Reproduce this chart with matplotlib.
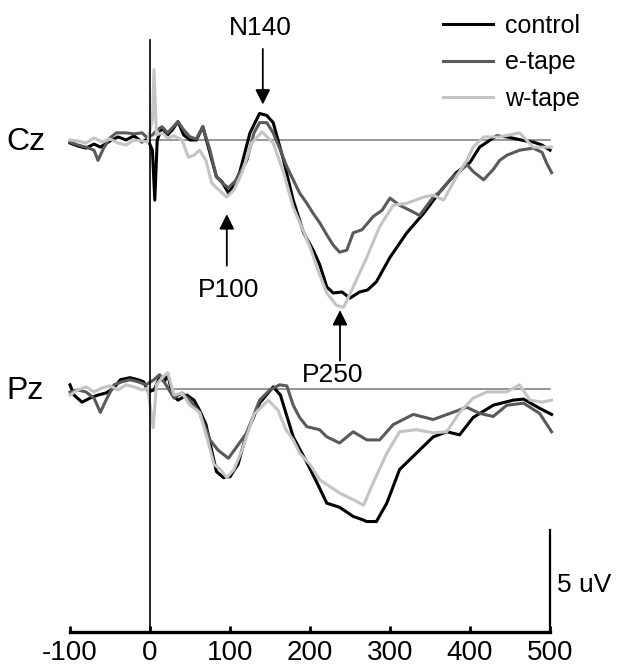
import matplotlib
matplotlib.use("Agg")
import matplotlib.pyplot as plt

plt.rcParams['font.family'] = ['Liberation Sans', 'DejaVu Sans']

# ERP amplitudes in uV (negative drawn upward), time in ms
cz_control_t = [-100, -90, -80, -70, -62, -50, -40, -30, -20, -10, -3, 3, 6, 9, 15, 22, 28, 35, 42, 50,
                58, 66, 75, 83, 90, 98, 105, 112, 125, 137, 146, 154, 167, 179, 192, 204, 212, 221, 229,
                240, 250, 262, 272, 283, 300, 321, 342, 362, 383, 400, 412, 433, 446, 458, 470, 479, 490, 500]
cz_control_v = [0.15, 0.3, 0.4, 0.2, 0.35, 0.05, -0.15, 0, -0.2, 0.1, -0.05, 0.5, 2.95, 0, -0.6, -0.25, -0.5,
                -0.9, -0.25, 0, 0, -0.65, 0.65, 1.8, 2.05, 2.6, 2.2, 1.6, -0.35, -1.3, -1.2, -0.85, 1.0,
                2.95, 4.55, 5.4, 6.1, 7.2, 7.5, 7.45, 7.75, 7.45, 7.35, 6.95, 5.75, 4.55, 3.6, 2.55, 1.6,
                1.1, 0.35, -0.2, -0.15, -0.05, 0.05, 0.1, 0.25, 0.5]

cz_etape_t = [-100, -90, -80, -70, -65, -58, -50, -42, -30, -20, -10, -3, 3, 9, 15, 22, 28, 35, 42, 50,
              58, 66, 75, 83, 90, 98, 108, 121, 130, 137, 146, 154, 163, 171, 179, 187, 196, 204, 212,
              221, 229, 237, 246, 254, 265, 279, 290, 300, 312, 325, 337, 354, 365, 375, 387, 396, 404,
              417, 429, 437, 446, 462, 479, 490, 496, 502]
cz_etape_v = [0.1, 0.25, 0.35, 0.5, 1.0, 0.4, -0.1, -0.35, -0.35, -0.3, -0.35, -0.1, -0.25, -0.5, -0.65,
              -0.35, -0.6, -0.9, -0.5, -0.15, -0.05, -0.65, 0.5, 1.8, 2.1, 2.35, 1.95, 1.0, -0.35, -0.85,
              -0.85, -0.35, 0.5, 1.3, 1.95, 2.6, 3.1, 3.6, 4.05, 4.65, 5.15, 5.5, 5.4, 4.55, 4.4, 3.75,
              3.45, 2.85, 3.2, 3.45, 3.7, 2.8, 2.45, 1.95, 1.55, 1.2, 1.55, 1.95, 1.45, 1.0, 0.75, 0.5,
              0.4, 0.6, 1.15, 1.6]

cz_wtape_t = [-100, -90, -80, -70, -60, -50, -40, -30, -20, -10, -3, 3, 5, 8, 15, 22, 30, 40, 48, 55, 62,
              70, 77, 86, 96, 105, 115, 127, 140, 154, 167, 179, 190, 200, 212, 221, 233, 242, 254, 271,
              287, 304, 321, 342, 354, 367, 383, 396, 404, 417, 437, 450, 462, 479, 490, 502]
cz_wtape_v = [0, 0.05, 0.15, -0.1, 0.1, -0.05, 0.15, 0.25, 0, 0.05, 0.1, -1.0, -3.45, -0.25, -0.35, -0.1,
              -0.2, 0, 0.85, 0.75, 0.5, 1.0, 2.1, 2.45, 2.8, 2.45, 1.6, 0.15, -0.4, 0.15, 1.6, 3.3, 4.3,
              5.25, 6.6, 7.5, 8.1, 8.2, 7.2, 5.75, 4.25, 3.2, 3.1, 2.8, 2.7, 2.95, 1.8, 1.0, 0.35, -0.15,
              -0.15, -0.25, -0.35, 0.35, 0.35, 0.35]

pz_control_t = [-100, -95, -85, -75, -65, -55, -45, -37, -25, -15, -8, -2, 5, 12, 18, 22, 28, 35, 46, 55,
                62, 70, 77, 83, 92, 100, 110, 121, 137, 154, 163, 179, 196, 210, 221, 237, 254, 265, 271,
                283, 296, 312, 333, 354, 371, 387, 404, 429, 454, 467, 487, 502]
pz_control_v = [-0.2, 0.3, 0.65, 0.45, 0.3, 0.2, -0.05, -0.45, -0.55, -0.45, -0.35, 0.15, 0.05, -0.55,
                -0.35, -0.75, 0.3, 0.55, 0.3, 0.55, 1.05, 1.75, 3.0, 4.05, 4.35, 4.3, 3.7, 2.15, 0.7, -0.1,
                0.3, 2.35, 3.6, 4.7, 5.6, 5.8, 6.25, 6.4, 6.5, 6.5, 5.6, 3.95, 3.15, 2.35, 2.1, 2.25, 1.4,
                0.8, 0.55, 0.5, 0.95, 1.25]

pz_etape_t = [-100, -90, -80, -70, -62, -55, -45, -35, -25, -15, -5, 5, 12, 20, 30, 40, 50, 62, 75, 85,
              98, 110, 121, 137, 150, 162, 171, 179, 187, 196, 212, 221, 237, 254, 271, 287, 304, 329,
              354, 375, 396, 412, 429, 446, 467, 487, 502]
pz_etape_v = [0.15, 0.05, 0.15, 0.45, 1.15, 0.55, -0.2, -0.35, -0.45, -0.35, -0.2, -0.45, -0.7, -0.2,
              0.45, 0.2, 0.55, 1.15, 2.5, 3.0, 3.4, 2.75, 2.15, 0.55, 0.05, -0.2, -0.15, 0.8, 1.4, 1.85,
              2.0, 2.35, 2.65, 2.1, 2.5, 2.5, 1.75, 1.25, 1.5, 1.2, 0.9, 1.2, 1.35, 0.8, 0.7, 1.2, 2.1]

pz_wtape_t = [-100, -90, -80, -70, -60, -50, -40, -30, -20, -10, -3, 4, 8, 15, 22, 30, 40, 50, 62, 72, 80,
              88, 96, 105, 115, 130, 148, 160, 170, 179, 187, 200, 212, 237, 255, 267, 279, 296, 312,
              333, 354, 371, 387, 404, 421, 446, 462, 475, 490, 502]
pz_wtape_v = [0.3, 0.05, -0.1, 0.15, -0.05, -0.15, 0.05, -0.2, -0.1, 0.05, -0.05, 1.9, -0.2, -0.55, -0.8,
              0.3, 0.2, 0.8, 1.15, 2.5, 3.7, 3.95, 4.35, 3.95, 3.0, 1.25, 0.55, 1.05, 2.0, 2.5, 3.15, 3.7,
              4.45, 5.1, 5.45, 5.7, 4.6, 3.15, 2.1, 2.0, 2.15, 2.1, 1.15, 0.45, 0.15, 0.15, -0.2, 0.55,
              0.65, 0.55]

conditions = ['control', 'e-tape', 'w-tape']
colors = ['#000000', '#5a5a5a', '#c4c4c4']
channels = ['Cz', 'Pz']
channel_offset = [0.0, 12.2]
xticks = [-100, 0, 100, 200, 300, 400, 500]
scale_uv = 5

cz = [(cz_control_t, cz_control_v), (cz_etape_t, cz_etape_v), (cz_wtape_t, cz_wtape_v)]
pz = [(pz_control_t, pz_control_v), (pz_etape_t, pz_etape_v), (pz_wtape_t, pz_wtape_v)]

fig = plt.figure(figsize=(6.28, 6.66), dpi=100)
ax = fig.add_axes([0, 0, 1, 1])
ax.set_xlim(-187.5, 597.5)
ax.set_ylim(25.78, -6.86)
axis_y = 24.1

for name, off, data in zip(channels, channel_offset, [cz, pz]):
    ax.plot([0, 500], [off, off], color='#7a7a7a', lw=1.1, zorder=1)
    for (t, v), c, lab in zip(data, colors, conditions):
        ax.plot(t, [x + off for x in v], color=c, lw=2.2, zorder=2,
                label=lab if name == 'Cz' else None)
    ax.text(-180, off + 0.1, name, fontsize=23, ha='left', va='center')

# stimulus onset line
ax.plot([0, 0], [-4.9, axis_y], color='black', lw=1.2, zorder=3)

# time axis
for s in ['left', 'right', 'top']:
    ax.spines[s].set_visible(False)
ax.spines['bottom'].set_position(('data', axis_y))
ax.spines['bottom'].set_bounds(-100, 500)
ax.spines['bottom'].set_linewidth(2.4)
ax.set_xticks(xticks)
ax.set_xticklabels([str(x) for x in xticks])
ax.tick_params(axis='x', direction='in', length=4, width=2, labelsize=20, pad=6)
ax.set_yticks([])

# scale bar
ax.plot([500, 500], [axis_y - scale_uv, axis_y], color='black', lw=1.6)
ax.text(509, axis_y - 2.3, '5 uV', fontsize=19, ha='left', va='center')

# component labels
arrow = dict(arrowstyle='-|>,head_width=0.45,head_length=0.9', color='black', lw=1.3)
ax.annotate('', xy=(141, -1.6), xytext=(141, -4.6), arrowprops=arrow)
ax.text(138, -5.5, 'N140', fontsize=19, ha='center', va='center')
ax.annotate('', xy=(96, 3.5), xytext=(96, 6.3), arrowprops=arrow)
ax.text(98, 7.35, 'P100', fontsize=19, ha='center', va='center')
ax.annotate('', xy=(237.5, 8.2), xytext=(237.5, 10.95), arrowprops=arrow)
ax.text(228, 11.5, 'P250', fontsize=19, ha='center', va='center')

leg = ax.legend(loc='upper right', bbox_to_anchor=(0.96, 1.013), frameon=False, fontsize=18,
                handlelength=2.0, handletextpad=0.5, labelspacing=0.5)

fig.savefig('out.png', dpi=100)
